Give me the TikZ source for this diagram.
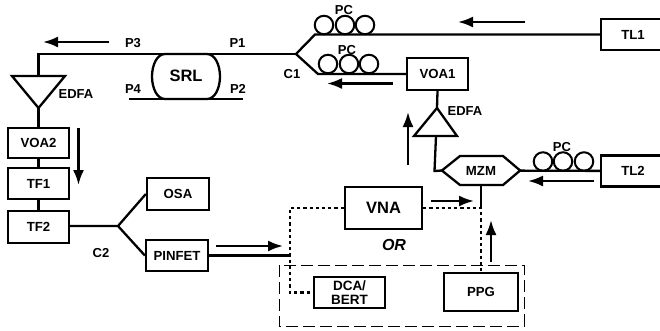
\documentclass[tikz,border=0pt]{standalone}
\usepackage{fontspec}
\setmainfont{Liberation Sans}
\usetikzlibrary{positioning,calc,arrows.meta}
\tikzset{
  box/.style={draw=black,line width=2.3pt,minimum width=#1,minimum height=31pt,inner sep=0pt,font=\fontsize{13.2}{14}\selectfont\bfseries,align=center},
  box/.default=61pt,
  lab/.style={inner sep=0pt,font=\fontsize{13}{14}\selectfont\bfseries},
  fibre/.style={draw=black,line width=2.3pt,line join=miter},
  elec/.style={draw=black,line width=2.3pt,dash pattern=on 3.2pt off 3pt},
  flow/.style={draw=black,line width=2.3pt,-{Latex[length=15pt,width=11pt]}},
  pcloop/.style={circle,draw=black,line width=2pt,minimum size=18.5pt,inner sep=0pt},
}

\begin{document}
\begin{tikzpicture}[x=1pt,y=-1pt]
  \useasboundingbox (0,0) rectangle (660,330);
  % outer frame round the test instruments
  \draw[black,line width=0.9pt,dash pattern=on 12pt off 5pt] (279,265) rectangle (524,326);

  % boxes
  \node[box=64pt] (TLone) at (633,34.5) {TL1};
  \node[box=64pt] (TLtwo) at (633,171) {TL2};
  \node[box,minimum height=32pt] (VOAone) at (437.5,74) {VOA1};
  \node[box,minimum height=30pt] (VOAtwo) at (38.5,143) {VOA2};
  \node[box] (TFone) at (38.5,183.5) {TF1};
  \node[box,minimum height=32pt] (TFtwo) at (38.5,227) {TF2};
  \node[box=62pt,minimum height=32pt] (OSA) at (178,194) {OSA};
  \node[box=62pt] (PINFET) at (177,255.5) {PINFET};
  \node[box=77pt,minimum height=42pt,font=\fontsize{16.5}{17}\selectfont\bfseries] (VNA) at (383.5,208) {VNA};
  \node[box=71pt,font=\fontsize{13.5}{13.5}\selectfont\bfseries] (DCA) at (349.5,292.5) {DCA/\\BERT};
  \node[box=74pt,minimum height=38pt] (PPG) at (481,292) {PPG};
  \node[box=76pt,draw=none,minimum height=29pt] (MZM) at (481,170.5) {MZM};
  \node[box=0pt,draw=none,minimum height=0pt,font=\fontsize{16.5}{17}\selectfont\bfseries] (SRLtext) at (186,76) {SRL};

  % junctions
  \coordinate (Cone) at (296,54);
  \coordinate (Ctwo) at (118,226);
  \coordinate (topup) at (315,34.5);
  \coordinate (toplow) at (318,74);
  \coordinate (corner) at (38.5,54);
  \coordinate (tap) at (481,208);
  \coordinate (rx) at (290,208);
  \coordinate (rxlow) at (290,292.5);
  \coordinate (rxin) at (290,255.5);
  \coordinate (mzmbend) at (434.5,171);

  % amplifiers
  \coordinate (EDFAtwoL) at (12,76);
  \coordinate (EDFAtwoR) at (65,76);
  \coordinate (EDFAtwoT) at (38.5,108);
  \coordinate (EDFAoneL) at (414,136);
  \coordinate (EDFAoneR) at (457,136);
  \coordinate (EDFAoneT) at (437,108);
  \draw[fibre] (EDFAtwoL)--(EDFAtwoR)--(EDFAtwoT)--cycle;
  \draw[fibre] (EDFAoneL)--(EDFAoneR)--(EDFAoneT)--cycle;
  \draw[fibre] (MZM.west)--(460,156)--(503,156)--(MZM.east)--(503,185)--(460,185)--cycle;

  % ring
  \draw[fibre] (165,54)--(207,54) .. controls (215,54) and (220,65) .. (220,76.5)
    .. controls (220,88) and (215,99) .. (207,99)--(165,99)
    .. controls (157,99) and (152,88) .. (152,76.5)
    .. controls (152,65) and (157,54) .. (165,54)--cycle;
  \coordinate (Pfour) at (129,99);
  \coordinate (Ptwo) at (243,99);
  \draw[fibre] (Pfour)--(Ptwo);

  % fibre paths
  \draw[fibre] (TLone)--(topup)--(Cone)--(toplow)--(VOAone);
  \draw[fibre] (Cone)--(corner)--(EDFAtwoL-|corner);
  \draw[fibre] (EDFAtwoT)--(VOAtwo);
  \draw[fibre] (VOAtwo)--(TFone);
  \draw[fibre] (TFone)--(TFtwo);
  \draw[fibre] (TFtwo.east|-Ctwo)--(Ctwo)--(OSA.west);
  \draw[fibre] (Ctwo)--(PINFET.west);
  \draw[fibre] (PINFET)--(rxin);
  \draw[fibre] (VOAone.south)--(EDFAoneT);
  \draw[fibre] (436,136)--(mzmbend)--(MZM.west);
  \draw[fibre] (MZM)--(TLtwo);
  \draw[fibre] (MZM.south)--(tap);

  % electrical paths
  \draw[elec] (VNA.west)--(rx)--(rxlow)--(DCA.west);
  \draw[elec] (VNA.east)--(tap)--(PPG.north);

  % controllers
  \foreach \x/\n in {324/a,345/b,365/c}
    \node[pcloop] (PCup\n) at (\x,25) {};
  \foreach \x/\n in {328/a,349/b,369/c}
    \node[pcloop] (PClow\n) at (\x,64) {};
  \foreach \x/\n in {543/a,563/b,584/c}
    \node[pcloop] (PCtl\n) at (\x,161.5) {};

  % direction arrows
  \coordinate (fA) at (109,42);   \coordinate (tA) at (43,42);
  \coordinate (fB) at (525,22);   \coordinate (tB) at (458,22);
  \coordinate (fC) at (393,83.5); \coordinate (tC) at (327,83.5);
  \coordinate (fD) at (594,181);  \coordinate (tD) at (528,181);
  \coordinate (fE) at (408,165);  \coordinate (tE) at (408,112);
  \coordinate (fF) at (78.5,128); \coordinate (tF) at (78.5,185);
  \coordinate (fG) at (216,246);  \coordinate (tG) at (283,246);
  \coordinate (fH) at (431,201);  \coordinate (tH) at (474,201);
  \coordinate (fI) at (491,262);  \coordinate (tI) at (491,220);
  \foreach \f/\t in {fA/tA,fB/tB,fC/tC,fD/tD,fE/tE,fF/tF,fG/tG,fH/tH,fI/tI}
    \draw[flow] (\f)--(\t);

  % labels
  \node[lab] (Pthree) at (133,43) {P3};
  \node[lab] (Pone) at (237.5,43) {P1};
  \node[lab] (Pfourlab) at (133,89) {P4};
  \node[lab] (Ptwolab) at (238,89) {P2};
  \node[lab] (Conelab) at (292,74) {C1};
  \node[lab] (Ctwolab) at (101,253) {C2};
  \node[lab] (EDFAtwolab) at (76,94) {EDFA};
  \node[lab] (EDFAonelab) at (465,111) {EDFA};
  \node[lab] (PCuplab) at (344,10) {PC};
  \node[lab] (PClowlab) at (347,50) {PC};
  \node[lab] (PCtllab) at (562,147) {PC};
  \node[lab,font=\fontsize{16}{17}\selectfont\bfseries\itshape] (ORlab) at (394,245) {OR};
\end{tikzpicture}
\end{document}
